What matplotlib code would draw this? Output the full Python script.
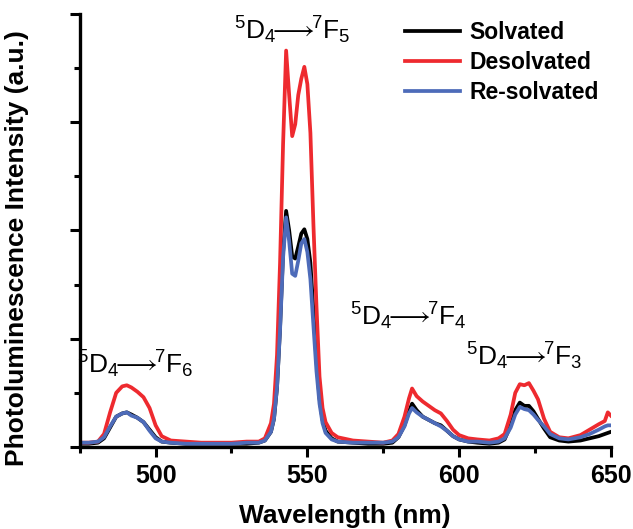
import matplotlib
matplotlib.use("Agg")
import matplotlib.pyplot as plt
from matplotlib.ticker import MultipleLocator

plt.rcParams["font.family"] = ["Liberation Sans", "DejaVu Sans"]
plt.rcParams["mathtext.fontset"] = "custom"
plt.rcParams["mathtext.rm"] = "Liberation Sans"
plt.rcParams["mathtext.it"] = "Liberation Sans:italic"
plt.rcParams["mathtext.bf"] = "Liberation Sans:bold"

# wavelength grid (nm)
wavelength = [475, 478, 481, 483, 485, 487, 489, 490.5, 492, 494, 496, 498, 500, 502, 505,
              510, 515, 520, 525, 530, 534, 536, 538, 539, 540, 541, 542, 543, 544, 545,
              546, 547, 548, 549, 550, 551, 552, 553, 554, 555, 556, 558, 560, 565, 570,
              575, 578, 580, 582, 583.5, 584.5, 586, 588, 590, 592, 594, 596, 598, 600,
              603, 606, 610, 613, 615, 617, 618.5, 620, 621.5, 623, 624.5, 626, 628, 630,
              633, 636, 640, 643, 646, 648, 649, 650]

solvated = [0.03, 0.03, 0.04, 0.08, 0.18, 0.28, 0.31, 0.32, 0.30, 0.27, 0.23, 0.16, 0.09, 0.05, 0.04,
            0.03, 0.03, 0.03, 0.03, 0.03, 0.04, 0.06, 0.14, 0.26, 0.55, 1.10, 1.80, 2.18, 2.00, 1.76,
            1.74, 1.85, 1.97, 2.01, 1.92, 1.70, 1.25, 0.80, 0.45, 0.25, 0.15, 0.08, 0.05, 0.04, 0.03,
            0.03, 0.04, 0.09, 0.20, 0.33, 0.40, 0.34, 0.28, 0.25, 0.22, 0.20, 0.15, 0.10, 0.07,
            0.05, 0.04, 0.03, 0.04, 0.07, 0.20, 0.34, 0.41, 0.38, 0.38, 0.33, 0.26, 0.17, 0.09,
            0.06, 0.05, 0.06, 0.08, 0.10, 0.12, 0.13, 0.14]

desolvated = [0.04, 0.04, 0.05, 0.12, 0.32, 0.50, 0.56, 0.57, 0.55, 0.51, 0.46, 0.36, 0.20, 0.10, 0.06,
              0.05, 0.04, 0.04, 0.04, 0.05, 0.05, 0.08, 0.22, 0.40, 0.85, 1.70, 2.80, 3.66, 3.25, 2.87,
              2.98, 3.25, 3.40, 3.51, 3.35, 2.90, 2.05, 1.30, 0.65, 0.36, 0.23, 0.13, 0.09, 0.06, 0.05,
              0.04, 0.06, 0.12, 0.28, 0.45, 0.54, 0.47, 0.42, 0.38, 0.34, 0.31, 0.24, 0.16, 0.11,
              0.08, 0.07, 0.06, 0.08, 0.12, 0.30, 0.50, 0.58, 0.57, 0.59, 0.52, 0.44, 0.26, 0.14,
              0.09, 0.08, 0.11, 0.16, 0.21, 0.24, 0.32, 0.29]

resolvated = [0.04, 0.04, 0.05, 0.09, 0.19, 0.28, 0.31, 0.32, 0.29, 0.27, 0.23, 0.15, 0.08, 0.05, 0.04,
              0.03, 0.03, 0.03, 0.03, 0.04, 0.04, 0.06, 0.14, 0.26, 0.55, 1.08, 1.75, 2.12, 1.90, 1.60,
              1.58, 1.72, 1.88, 1.92, 1.80, 1.55, 1.12, 0.70, 0.40, 0.22, 0.13, 0.07, 0.05, 0.04, 0.04,
              0.04, 0.05, 0.09, 0.19, 0.31, 0.36, 0.32, 0.28, 0.25, 0.22, 0.19, 0.15, 0.10, 0.07,
              0.05, 0.05, 0.04, 0.05, 0.08, 0.18, 0.30, 0.37, 0.35, 0.34, 0.30, 0.25, 0.19, 0.12,
              0.08, 0.07, 0.09, 0.12, 0.16, 0.19, 0.20, 0.20]

series_names = ["Solvated", "Desolvated", "Re-solvated"]
series_colors = ["#000000", "#ee2a2f", "#4d6bb9"]

transitions = [r"$^5$D$_4$$\!\!\longrightarrow\!\!$$^7$F$_6$", r"$^5$D$_4$$\!\!\longrightarrow\!\!$$^7$F$_5$",
               r"$^5$D$_4$$\!\!\longrightarrow\!\!$$^7$F$_4$", r"$^5$D$_4$$\!\!\longrightarrow\!\!$$^7$F$_3$"]
transition_x = [493.3, 544.9, 583.1, 621.5]
transition_y = [0.76, 3.85, 1.21, 0.84]

fig = plt.figure(figsize=(6.33, 5.29), dpi=100)
ax = fig.add_axes([0.126, 0.155, 0.839, 0.819])

for vals, name, col in zip([solvated, desolvated, resolvated], series_names, series_colors):
    ax.plot(wavelength, vals, color=col, lw=2.7, label=name)

for txt, tx, ty in zip(transitions, transition_x, transition_y):
    ax.text(tx, ty, txt, fontsize=19, ha="center", va="center")

ax.set_xlim(475, 650)
ax.set_ylim(0, 4)
ax.xaxis.set_major_locator(MultipleLocator(50))
ax.xaxis.set_minor_locator(MultipleLocator(25))
ax.yaxis.set_major_locator(MultipleLocator(1))
ax.yaxis.set_minor_locator(MultipleLocator(0.5))
ax.set_yticklabels([])
ax.tick_params(which="major", direction="out", length=7, width=2.2, labelsize=18, pad=5)
ax.tick_params(which="minor", direction="out", length=4, width=2.2)
for lab in ax.get_xticklabels():
    lab.set_fontweight("bold")
for side in ["top", "right"]:
    ax.spines[side].set_visible(False)
for side in ["left", "bottom"]:
    ax.spines[side].set_linewidth(2.4)

ax.set_xlabel("Wavelength (nm)", fontsize=19, fontweight="bold", labelpad=12)
ax.set_ylabel("Photoluminescence Intensity (a.u.)", fontsize=19, fontweight="bold", labelpad=16)
ax.yaxis.set_label_coords(-0.095, 0.46)

ax.legend(loc="upper left", bbox_to_anchor=(405 / 633, 1 - 21 / 529), bbox_transform=fig.transFigure,
          frameon=False, prop={"weight": "bold", "size": 16.5}, handlelength=2.4, handletextpad=0.4,
          labelspacing=0.3, borderpad=0, borderaxespad=0)

fig.savefig("out.png", dpi=100)
